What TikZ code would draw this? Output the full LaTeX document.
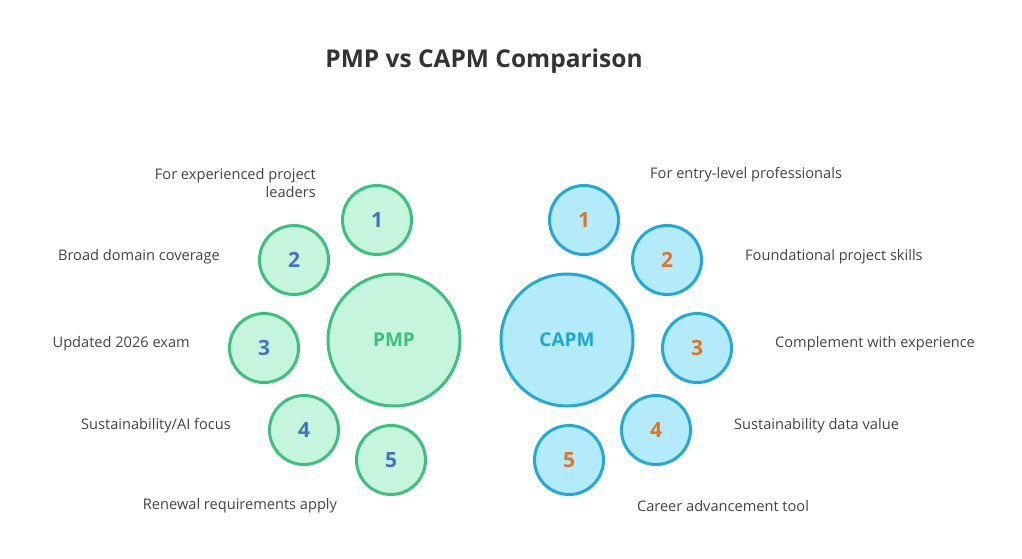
\documentclass[tikz,border=0pt]{standalone}
\usepackage{fontspec}
\setmainfont{Open Sans}
\definecolor{pmpfill}{HTML}{C5F5DC}
\definecolor{pmpline}{HTML}{3CC07E}
\definecolor{capfill}{HTML}{B3EBFB}
\definecolor{capline}{HTML}{22A9D8}
\definecolor{numblue}{HTML}{4174C2}
\definecolor{numorange}{HTML}{E07422}
\definecolor{pmptext}{HTML}{3CBE7C}
\definecolor{captext}{HTML}{1EA6D6}
\definecolor{labeltext}{HTML}{444444}
\definecolor{titletext}{HTML}{333333}
\begin{document}
\begin{tikzpicture}[x=1pt,y=-1pt,
  pmpsmall/.style={circle, draw=pmpline, fill=pmpfill, line width=3pt, minimum size=69pt, inner sep=0pt, font=\fontsize{21}{24}\selectfont\bfseries, text=numblue},
  pmpbig/.style={circle, draw=pmpline, fill=pmpfill, line width=3pt, minimum size=132pt, inner sep=0pt, font=\fontsize{19}{22}\selectfont\bfseries, text=pmptext},
  capsmall/.style={circle, draw=capline, fill=capfill, line width=3pt, minimum size=69pt, inner sep=0pt, font=\fontsize{21}{24}\selectfont\bfseries, text=numorange},
  capbig/.style={circle, draw=capline, fill=capfill, line width=3pt, minimum size=132pt, inner sep=0pt, font=\fontsize{19}{22}\selectfont\bfseries, text=captext},
  lbl/.style={inner sep=0pt, font=\fontsize{14.6}{18}\selectfont, text=labeltext},
  ttl/.style={inner sep=0pt, font=\fontsize{24.5}{28}\selectfont\bfseries, text=titletext}
]
\useasboundingbox[fill=white] (0,0) rectangle (1022,558);
\node[ttl] (title) at (484,61) {PMP vs CAPM Comparison};
% PMP side
\node[pmpbig] (pmp) at (394,340) {PMP};
\node[pmpsmall] (p1) at (377,220) {1};
\node[pmpsmall] (p2) at (294,260) {2};
\node[pmpsmall] (p3) at (264,348) {3};
\node[pmpsmall] (p4) at (304,430) {4};
\node[pmpsmall] (p5) at (391,460) {5};
\node[lbl, anchor=east, align=right] (pl1) at (316,183) {For experienced project\\leaders};
\node[lbl, anchor=east] (pl2) at (220,257) {Broad domain coverage};
\node[lbl, anchor=east] (pl3) at (190,344) {Updated 2026 exam};
\node[lbl, anchor=east] (pl4) at (231,426) {Sustainability/AI focus};
\node[lbl] (pl5) at (240,506) {Renewal requirements apply};
% CAPM side
\node[capbig] (capm) at (567,340) {CAPM};
\node[capsmall] (c1) at (584,220) {1};
\node[capsmall] (c2) at (667,260) {2};
\node[capsmall] (c3) at (697,348) {3};
\node[capsmall] (c4) at (656,430) {4};
\node[capsmall] (c5) at (569,460) {5};
\node[lbl, anchor=west] (cl1) at (650,175) {For entry-level professionals};
\node[lbl, anchor=west] (cl2) at (745,257) {Foundational project skills};
\node[lbl, anchor=west] (cl3) at (775,344) {Complement with experience};
\node[lbl, anchor=west] (cl4) at (734,426) {Sustainability data value};
\node[lbl] (cl5) at (723,506) {Career advancement tool};
\end{tikzpicture}
\end{document}
